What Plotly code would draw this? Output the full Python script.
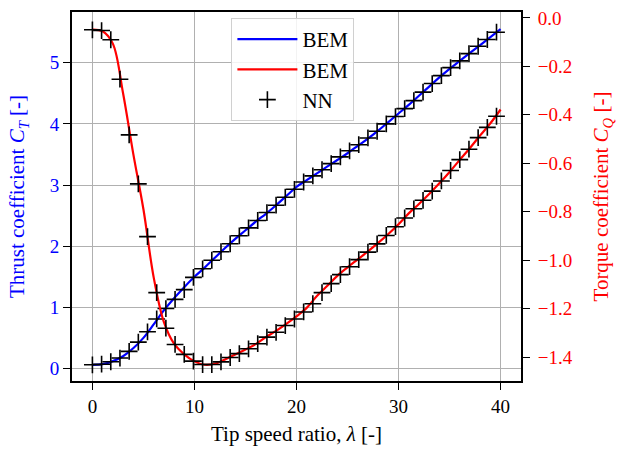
import plotly.graph_objects as go

# Tip speed ratio grid for the BEM curves
tsr_bem = list(range(0, 41))

# Thrust coefficient from BEM
ct_bem = [0.06, 0.07, 0.12, 0.20, 0.33, 0.50, 0.72, 0.95, 1.15, 1.33,
          1.50, 1.65, 1.81, 1.97, 2.12, 2.26, 2.40, 2.53, 2.67, 2.82,
          2.97, 3.08, 3.19, 3.30, 3.41, 3.52, 3.64, 3.76, 3.89, 4.03,
          4.17, 4.31, 4.46, 4.61, 4.76, 4.90, 5.03, 5.16, 5.29, 5.42,
          5.55]

# Torque coefficient from BEM
cq_bem = [-0.048, -0.055, -0.106, -0.31, -0.56, -0.79, -1.07, -1.255, -1.345, -1.389,
          -1.418, -1.432, -1.428, -1.410, -1.390, -1.369, -1.347, -1.318, -1.292, -1.263,
          -1.232, -1.197, -1.148, -1.107, -1.065, -1.030, -0.997, -0.964, -0.929, -0.892,
          -0.852, -0.807, -0.768, -0.727, -0.683, -0.636, -0.586, -0.537, -0.485, -0.435,
          -0.378]

# Neural network predictions
tsr_nn = [0.0, 0.9, 1.8, 2.7, 3.6, 4.5, 5.4, 6.3, 7.2, 8.1,
          9.0, 9.9, 10.8, 11.7, 12.6, 13.5, 14.4, 15.3, 16.2, 17.1,
          18.0, 18.9, 19.8, 20.7, 21.6, 22.5, 23.4, 24.3, 25.2, 26.1,
          27.0, 27.9, 28.8, 29.7, 30.6, 31.5, 32.4, 33.3, 34.2, 35.1,
          36.0, 36.9, 37.8, 38.7, 39.6]

ct_nn = [0.06, 0.07, 0.11, 0.17, 0.28, 0.43, 0.60, 0.81, 0.98, 1.13,
         1.29, 1.49, 1.63, 1.77, 1.91, 2.04, 2.17, 2.30, 2.42, 2.55,
         2.67, 2.80, 2.93, 3.05, 3.15, 3.25, 3.35, 3.46, 3.56, 3.66,
         3.77, 3.88, 4.00, 4.12, 4.25, 4.38, 4.52, 4.66, 4.79, 4.92,
         5.03, 5.15, 5.27, 5.38, 5.50]

cq_nn = [-0.049, -0.052, -0.090, -0.253, -0.483, -0.685, -0.903, -1.134, -1.281, -1.348,
         -1.389, -1.417, -1.431, -1.431, -1.420, -1.402, -1.386, -1.366, -1.345, -1.318,
         -1.298, -1.270, -1.243, -1.214, -1.180, -1.134, -1.097, -1.060, -1.027, -0.998,
         -0.967, -0.933, -0.898, -0.862, -0.826, -0.788, -0.753, -0.715, -0.673, -0.630,
         -0.585, -0.542, -0.494, -0.452, -0.406]

ct_ticks = [0, 1, 2, 3, 4, 5]
cq_ticks = [0.0, -0.2, -0.4, -0.6, -0.8, -1.0, -1.2, -1.4]
tsr_ticks = [0, 10, 20, 30, 40]

FONT = "Liberation Serif"
BLUE = "#0000ff"
RED = "#ff0000"
TICK_SIZE = 19
TITLE_SIZE = 21

nn_marker = dict(symbol="cross-thin", size=12, color="black",
                 line=dict(color="black", width=1.6))

fig = go.Figure()
fig.add_trace(go.Scatter(x=tsr_bem, y=ct_bem, mode="lines", name="BEM",
                         line=dict(color=BLUE, width=2.2, shape="spline"),
                         legendrank=1, yaxis="y"))
fig.add_trace(go.Scatter(x=tsr_nn, y=ct_nn, mode="markers", name="NN",
                         marker=nn_marker, legendrank=3, yaxis="y"))
fig.add_trace(go.Scatter(x=tsr_bem, y=cq_bem, mode="lines", name="BEM",
                         line=dict(color=RED, width=2.2, shape="spline"),
                         legendrank=2, yaxis="y2"))
fig.add_trace(go.Scatter(x=tsr_nn, y=cq_nn, mode="markers", name="NN",
                         marker=nn_marker, showlegend=False, yaxis="y2"))

axis_common = dict(showline=True, linecolor="black", linewidth=2,
                   ticks="outside", ticklen=7, tickwidth=1.2, tickcolor="black",
                   zeroline=False)

fig.update_layout(
    width=617, height=450,
    margin=dict(l=72, r=94, t=8, b=69),
    plot_bgcolor="white", paper_bgcolor="white",
    font=dict(family=FONT, size=TICK_SIZE, color="black"),
    showlegend=True,
    legend=dict(x=0.355, y=0.984, xanchor="left", yanchor="top",
                itemwidth=60,
                bgcolor="rgba(255,255,255,0.85)", bordercolor="#d0d0d0",
                borderwidth=1, font=dict(family=FONT, size=21)),
    xaxis=dict(axis_common, range=[-2, 42], tickvals=tsr_ticks,
               mirror=True, showgrid=True, gridcolor="#b0b0b0", gridwidth=1,
               tickfont=dict(size=TICK_SIZE),
               title=dict(text="Tip speed ratio, <i>λ</i> [-]", standoff=11,
                          font=dict(size=TITLE_SIZE))),
    yaxis=dict(axis_common, range=[-0.205, 5.83], tickvals=ct_ticks,
               showgrid=True, gridcolor="#b0b0b0", gridwidth=1,
               tickfont=dict(color=BLUE, size=TICK_SIZE),
               title=dict(text="Thrust coefficient <i>C</i><sub><i>T</i></sub> [-]",
                          font=dict(color=BLUE, size=TITLE_SIZE), standoff=19)),
    yaxis2=dict(axis_common, range=[-1.499, 0.0245], tickvals=cq_ticks,
                tickformat=".1f", overlaying="y", side="right",
                showgrid=False, tickfont=dict(color=RED, size=TICK_SIZE),
                ticklabelstandoff=4,
                title=dict(text="Torque coefficient <i>C</i><sub><i>Q</i></sub> [-]",
                           font=dict(color=RED, size=TITLE_SIZE), standoff=22)),
)

fig.write_html("out.html")
